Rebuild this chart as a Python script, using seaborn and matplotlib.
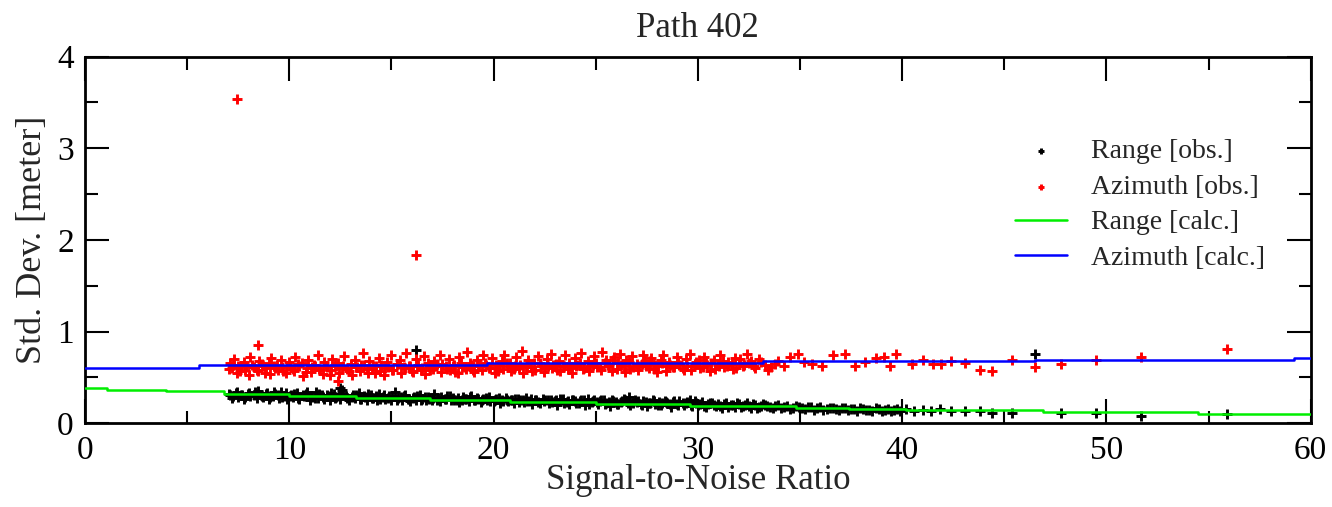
import numpy as np
import pandas as pd
import matplotlib
matplotlib.use("Agg")
import matplotlib.pyplot as plt
from matplotlib.ticker import MultipleLocator
import seaborn as sns

# observed range std. dev. (black crosses), first layer of the dense band
range_snr_a = [
    7.1, 7.2, 7.4, 7.5, 7.7, 7.8, 8.0, 8.1, 8.3, 8.4, 8.6, 8.7, 8.9, 9.0, 9.2, 9.3, 9.5, 9.6, 9.8, 9.9,
    10.1, 10.2, 10.4, 10.5, 10.7, 10.8, 11.0, 11.1, 11.3, 11.4, 11.6, 11.7, 11.9, 12.0, 12.2, 12.3, 12.5, 12.6, 12.8, 12.9,
    13.1, 13.2, 13.4, 13.5, 13.7, 13.8, 14.0, 14.1, 14.3, 14.4, 14.6, 14.7, 14.9, 15.0, 15.2, 15.3, 15.5, 15.6, 15.8, 15.9,
    16.1, 16.2, 16.4, 16.5, 16.7, 16.8, 17.0, 17.1, 17.3, 17.4, 17.6, 17.7, 17.9, 18.0, 18.2, 18.3, 18.5, 18.6, 18.8, 18.9,
    19.1, 19.2, 19.4, 19.5, 19.7, 19.8, 20.0, 20.1, 20.3, 20.4, 20.6, 20.7, 20.9, 21.0, 21.2, 21.3, 21.5, 21.6, 21.8, 21.9,
    22.1, 22.2, 22.4, 22.5, 22.7, 22.8, 23.0, 23.1, 23.3, 23.4, 23.6, 23.7, 23.9, 24.0, 24.2, 24.3, 24.5, 24.6, 24.8, 24.9,
    25.1, 25.2, 25.4, 25.5, 25.7, 25.8, 26.0, 26.1, 26.3, 26.4, 26.6, 26.7, 26.9, 27.0, 27.2, 27.3, 27.5, 27.6, 27.8, 27.9,
    28.1, 28.2, 28.4, 28.5, 28.7, 28.8, 29.0, 29.1, 29.3, 29.4, 29.6, 29.7, 29.9, 30.0, 30.2, 30.4, 30.5, 30.7, 30.9, 31.0,
    31.2, 31.4, 31.6, 31.8, 32.0, 32.2, 32.4, 32.6, 32.8, 33.0, 33.2, 33.4, 33.7, 33.9, 34.2, 34.5, 34.8, 35.1, 35.4, 35.7,
    36.0, 36.3, 36.6, 36.9, 37.2, 37.5, 37.8, 38.1, 38.4, 38.7, 39.0, 39.3, 39.6, 39.9, 40.2, 40.6, 41.0, 41.4,
]
range_std_a = [
    .31, .28, .33, .29, .31, .27, .32, .30, .34, .28, .31, .29, .33, .27, .30, .32, .28, .34, .30, .27,
    .31, .29, .33, .27, .30, .32, .26, .29, .34, .28, .31, .27, .30, .25, .32, .29, .27, .36, .30, .26,
    .31, .28, .33, .27, .29, .25, .31, .28, .26, .32, .29, .27, .30, .25, .34, .28, .26, .30, .27, .24,
    .29, .26, .31, .27, .25, .29, .26, .32, .28, .24, .27, .30, .25, .28, .26, .23, .29, .27, .24, .30,
    .26, .28, .23, .27, .25, .29, .24, .27, .22, .26, .28, .24, .26, .22, .27, .25, .23, .28, .24, .21,
    .26, .23, .27, .25, .22, .26, .24, .20, .25, .27, .23, .21, .26, .24, .22, .25, .20, .27, .23, .25,
    .21, .24, .26, .22, .19, .25, .23, .21, .24, .27, .22, .20, .25, .23, .21, .24, .19, .22, .25, .21,
    .23, .20, .24, .22, .18, .23, .21, .24, .20, .22, .26, .19, .22, .20, .23, .18, .21, .22, .19, .21,
    .17, .22, .20, .18, .21, .19, .22, .17, .20, .18, .21, .19, .17, .20, .18, .16, .19, .17, .18, .15,
    .18, .16, .17, .15, .17, .16, .14, .16, .15, .17, .14, .16, .15, .13, .16, .14, .15, .13,
]
# second layer of the dense range band
range_snr_b = [
    7.05, 7.25, 7.45, 7.65, 7.85, 8.05, 8.25, 8.45, 8.65, 8.85, 9.05, 9.25, 9.45, 9.65, 9.85,
    10.05, 10.25, 10.45, 10.65, 10.85, 11.05, 11.25, 11.45, 11.65, 11.85, 12.05, 12.25, 12.45, 12.65, 12.85,
    13.05, 13.25, 13.45, 13.65, 13.85, 14.05, 14.25, 14.45, 14.65, 14.85, 15.05, 15.25, 15.45, 15.65, 15.85,
    16.05, 16.25, 16.45, 16.65, 16.85, 17.05, 17.25, 17.45, 17.65, 17.85, 18.05, 18.25, 18.45, 18.65, 18.85,
    19.05, 19.25, 19.45, 19.65, 19.85, 20.05, 20.25, 20.45, 20.65, 20.85, 21.05, 21.25, 21.45, 21.65, 21.85,
    22.05, 22.25, 22.45, 22.65, 22.85, 23.05, 23.25, 23.45, 23.65, 23.85, 24.05, 24.25, 24.45, 24.65, 24.85,
    25.05, 25.25, 25.45, 25.65, 25.85, 26.05, 26.25, 26.45, 26.65, 26.85, 27.05, 27.25, 27.45, 27.65, 27.85,
    28.05, 28.25, 28.45, 28.65, 28.85, 29.05, 29.25, 29.45, 29.65, 29.85, 30.1, 30.3, 30.6, 30.8, 31.1,
    31.3, 31.5, 31.7, 31.9, 32.1, 32.3, 32.5, 32.7, 32.9, 33.1, 33.3, 33.55, 33.8, 34.05, 34.35,
    34.65, 34.95, 35.25, 35.55, 35.85, 36.15, 36.45, 36.75, 37.05, 37.35, 37.65, 37.95, 38.25, 38.55, 38.85,
    39.15, 39.45, 39.75,
]
range_std_b = [
    .32, .30, .34, .31, .29, .33, .31, .35, .30, .32, .29, .34, .31, .29, .33,
    .30, .32, .28, .31, .34, .30, .28, .32, .29, .31, .33, .28, .30, .32, .28,
    .29, .31, .27, .30, .32, .28, .30, .27, .31, .28, .30, .26, .29, .31, .27,
    .28, .30, .26, .29, .27, .28, .25, .29, .27, .30, .26, .28, .25, .27, .29,
    .25, .27, .26, .28, .24, .26, .28, .24, .26, .25, .27, .23, .26, .24, .27,
    .25, .22, .24, .26, .23, .25, .27, .22, .24, .25, .22, .24, .26, .21, .24,
    .23, .25, .21, .23, .24, .21, .23, .25, .29, .22, .24, .20, .23, .22, .24,
    .20, .22, .23, .21, .24, .20, .22, .23, .20, .24, .21, .19, .22, .20, .19,
    .21, .18, .20, .22, .18, .20, .19, .21, .17, .19, .20, .18, .19, .17, .19,
    .17, .18, .16, .18, .17, .15, .17, .16, .17, .15, .16, .17, .15, .14, .16,
    .15, .14, .16,
]
# sparse range points and outliers
range_snr_c = [41.85, 42.4, 43.1, 43.8, 44.4, 45.4, 46.5, 47.8, 49.5, 51.7, 55.9, 16.2, 12.5]
range_std_c = [.16, .14, .13, .14, .115, .115, .76, .115, .115, .085, .10, .80, .39]

# observed azimuth std. dev. (red crosses), first layer of the dense band
azimuth_snr_a = [
    7.1, 7.2, 7.3, 7.5, 7.6, 7.8, 7.9, 8.1, 8.2, 8.4, 8.5, 8.7, 8.8, 9.0, 9.1, 9.3, 9.4, 9.6, 9.7, 9.9,
    10.0, 10.2, 10.3, 10.5, 10.6, 10.8, 10.9, 11.1, 11.2, 11.4, 11.5, 11.7, 11.8, 12.0, 12.1, 12.3, 12.4, 12.6, 12.7, 12.9,
    13.0, 13.2, 13.3, 13.5, 13.6, 13.8, 13.9, 14.1, 14.2, 14.4, 14.5, 14.7, 14.8, 15.0, 15.1, 15.3, 15.4, 15.6, 15.7, 15.9,
    16.0, 16.2, 16.3, 16.5, 16.6, 16.8, 16.9, 17.1, 17.2, 17.4, 17.5, 17.7, 17.8, 18.0, 18.1, 18.3, 18.4, 18.6, 18.7, 18.9,
    19.0, 19.2, 19.3, 19.5, 19.6, 19.8, 19.9, 20.1, 20.2, 20.4, 20.5, 20.7, 20.8, 21.0, 21.1, 21.3, 21.4, 21.6, 21.7, 21.9,
    22.0, 22.2, 22.3, 22.5, 22.6, 22.8, 22.9, 23.1, 23.2, 23.4, 23.5, 23.7, 23.8, 24.0, 24.1, 24.3, 24.4, 24.6, 24.7, 24.9,
    25.0, 25.2, 25.3, 25.5, 25.6, 25.8, 25.9, 26.1, 26.2, 26.4, 26.5, 26.7, 26.8, 27.0, 27.1, 27.3, 27.4, 27.6, 27.7, 27.9,
    28.0, 28.2, 28.3, 28.5, 28.6, 28.8, 29.0, 29.1, 29.3, 29.4, 29.6, 29.8, 29.9, 30.1, 30.3, 30.4, 30.6, 30.8, 31.0, 31.1,
    31.3, 31.5, 31.7, 31.8, 32.0, 32.2, 32.4, 32.6, 32.8, 33.0, 33.3, 33.6, 33.9, 34.2,
]
azimuth_std_a = [
    .66, .60, .70, .63, .57, .67, .61, .72, .64, .58, .68, .62, .55, .66, .71, .60, .64, .69, .57, .63,
    .67, .59, .72, .62, .66, .56, .69, .61, .64, .74, .58, .67, .62, .53, .70, .63, .66, .60, .73, .57,
    .65, .69, .61, .64, .77, .59, .68, .62, .55, .71, .64, .60, .67, .74, .58, .65, .69, .61, .77, .63,
    .57, .70, .64, .60, .73, .66, .58, .68, .62, .75, .65, .59, .70, .63, .56, .72, .66, .61, .78, .64,
    .58, .69, .62, .74, .66, .60, .71, .64, .57, .68, .75, .62, .66, .59, .72, .64, .79, .61, .69, .57,
    .66, .73, .63, .60, .70, .76, .64, .58, .68, .62, .74, .66, .60, .71, .64, .77, .59, .68, .63, .73,
    .66, .61, .78, .69, .64, .57, .72, .66, .76, .62, .69, .59, .73, .65, .63, .75, .68, .60, .71, .64,
    .56, .69, .74, .62, .67, .61, .72, .64, .58, .70, .76, .63, .67, .60, .72, .66, .57, .69, .64, .74,
    .61, .67, .59, .71, .65, .62, .76, .68, .60, .70, .64, .61, .68, .63,
]
# second layer of the dense azimuth band
azimuth_snr_b = [
    7.05, 7.25, 7.45, 7.65, 7.85, 8.05, 8.25, 8.45, 8.65, 8.85, 9.05, 9.25, 9.45, 9.65, 9.85,
    10.05, 10.25, 10.45, 10.65, 10.85, 11.05, 11.25, 11.45, 11.65, 11.85, 12.05, 12.25, 12.45, 12.65, 12.85,
    13.05, 13.25, 13.45, 13.65, 13.85, 14.05, 14.25, 14.45, 14.65, 14.85, 15.05, 15.25, 15.45, 15.65, 15.85,
    16.05, 16.25, 16.45, 16.65, 16.85, 17.05, 17.25, 17.45, 17.65, 17.85, 18.05, 18.25, 18.45, 18.65, 18.85,
    19.05, 19.25, 19.45, 19.65, 19.85, 20.05, 20.25, 20.45, 20.65, 20.85, 21.05, 21.25, 21.45, 21.65, 21.85,
    22.05, 22.25, 22.45, 22.65, 22.85, 23.05, 23.25, 23.45, 23.65, 23.85, 24.05, 24.25, 24.45, 24.65, 24.85,
    25.05, 25.25, 25.45, 25.65, 25.85, 26.05, 26.25, 26.45, 26.65, 26.85, 27.05, 27.25, 27.45, 27.65, 27.85,
    28.05, 28.25, 28.45, 28.65, 28.85, 29.05, 29.25, 29.45, 29.65, 29.85, 30.05, 30.25, 30.45, 30.65, 30.85,
    31.05, 31.25, 31.45, 31.65, 31.85, 32.05, 32.25, 32.5, 32.75, 33.1, 33.45, 33.8,
]
azimuth_std_b = [
    .59, .64, .55, .62, .58, .53, .61, .57, .65, .60, .54, .63, .58, .61, .55,
    .62, .57, .65, .52, .60, .56, .63, .59, .54, .61, .58, .64, .55, .62, .59,
    .53, .61, .57, .64, .55, .60, .63, .57, .53, .61, .58, .65, .55, .60, .62,
    .56, .63, .58, .54, .61, .59, .65, .56, .62, .58, .64, .55, .61, .59, .66,
    .56, .62, .58, .64, .60, .55, .63, .59, .66, .57, .62, .60, .55, .64, .61,
    .58, .66, .56, .62, .60, .65, .57, .63, .59, .55, .62, .66, .60, .57, .64,
    .61, .58, .66, .62, .69, .59, .64, .56, .67, .61, .58, .65, .62, .68, .59,
    .63, .66, .57, .64, .61, .67, .60, .63, .58, .65, .69, .61, .64, .66, .59,
    .63, .68, .62, .65, .60, .70, .64, .66, .62, .67, .58, .65,
]
# sparse azimuth points and outliers
azimuth_snr_c = [
    34.5, 34.9, 35.2, 35.6, 36.1, 36.6, 37.2, 37.7, 38.2, 38.7, 39.1, 39.4, 39.7, 40.5, 41.0, 41.5, 41.9,
    42.4, 43.1, 43.8, 44.4, 45.4, 46.5, 47.8, 49.5, 51.7, 55.9, 7.45, 16.2, 8.45, 12.4,
]
azimuth_std_c = [
    .72, .76, .67, .65, .63, .74, .76, .63, .67, .71, .72, .63, .76, .65, .69, .65, .65,
    .675, .66, .58, .57, .69, .61, .65, .69, .72, .81, 3.54, 1.84, .85, .46,
]

# calculated std. dev. (step curves)
range_calc_snr = [0, 1.1, 3.95, 6.8, 10.0, 13.25, 16.9, 20.0, 20.8, 25.0, 29.6, 34.8, 37.4, 40.2, 46.9, 54.5, 60]
range_calc_std = [0.39, 0.365, 0.35, 0.32, 0.295, 0.277, 0.258, 0.25, 0.236, 0.211, 0.19, 0.169, 0.158, 0.15, 0.125, 0.103, 0.103]
azimuth_calc_snr = [0, 5.6, 19.7, 33.2, 46.5, 59.2, 60]
azimuth_calc_std = [0.605, 0.633, 0.655, 0.675, 0.693, 0.718, 0.718]

range_obs = pd.DataFrame({"snr": range_snr_a + range_snr_b + range_snr_c,
                          "std": range_std_a + range_std_b + range_std_c})
azimuth_obs = pd.DataFrame({"snr": azimuth_snr_a + azimuth_snr_b + azimuth_snr_c,
                            "std": azimuth_std_a + azimuth_std_b + azimuth_std_c})

sns.set_theme(style="ticks")
plt.rcParams["font.family"] = ["Liberation Serif", "DejaVu Serif"]

fig = plt.figure(figsize=(13.32, 5.07), dpi=100)
ax = fig.add_axes([0.0638, 0.165, 0.9202, 0.7235])

sns.scatterplot(data=range_obs, x="snr", y="std", marker="+", color="black", s=60,
                linewidth=2.1, ax=ax, label="Range [obs.]", zorder=2)
sns.scatterplot(data=azimuth_obs, x="snr", y="std", marker="+", color="red", s=60,
                linewidth=2.1, ax=ax, label="Azimuth [obs.]", zorder=3)
sns.lineplot(x=range_calc_snr, y=range_calc_std, drawstyle="steps-post", color="#00ee00",
             linewidth=1.8, ax=ax, label="Range [calc.]", zorder=4)
sns.lineplot(x=azimuth_calc_snr, y=azimuth_calc_std, drawstyle="steps-post", color="#0000ff",
             linewidth=1.8, ax=ax, label="Azimuth [calc.]", zorder=4)

ax.set_xlim(0, 60)
ax.set_ylim(0, 4)
ax.xaxis.set_major_locator(MultipleLocator(10))
ax.xaxis.set_minor_locator(MultipleLocator(5))
ax.yaxis.set_major_locator(MultipleLocator(1))
ax.yaxis.set_minor_locator(MultipleLocator(0.5))
ax.tick_params(which="both", direction="in", top=True, right=True, width=1.5, colors="black",
               labelsize=24)
ax.tick_params(axis="x", pad=9)
ax.tick_params(axis="y", pad=8)
ax.tick_params(which="major", length=17)
ax.tick_params(which="minor", length=9)
for sp in ax.spines.values():
    sp.set_linewidth(2)
    sp.set_color("black")

ax.set_title("Path 402", fontsize=25, pad=14)
ax.set_xlabel("Signal-to-Noise Ratio", fontsize=25, labelpad=-2)
ax.set_ylabel("Std. Dev. [meter]", fontsize=26, labelpad=6)

leg = ax.legend(loc="upper left", bbox_to_anchor=(1015 / 1332, 1 - 139 / 507),
                bbox_transform=fig.transFigure, frameon=False, fontsize=20,
                borderpad=0, borderaxespad=0, handlelength=1.87, handletextpad=0.85,
                labelspacing=0.36, markerscale=0.6)

fig.savefig("out.png", dpi=100)
